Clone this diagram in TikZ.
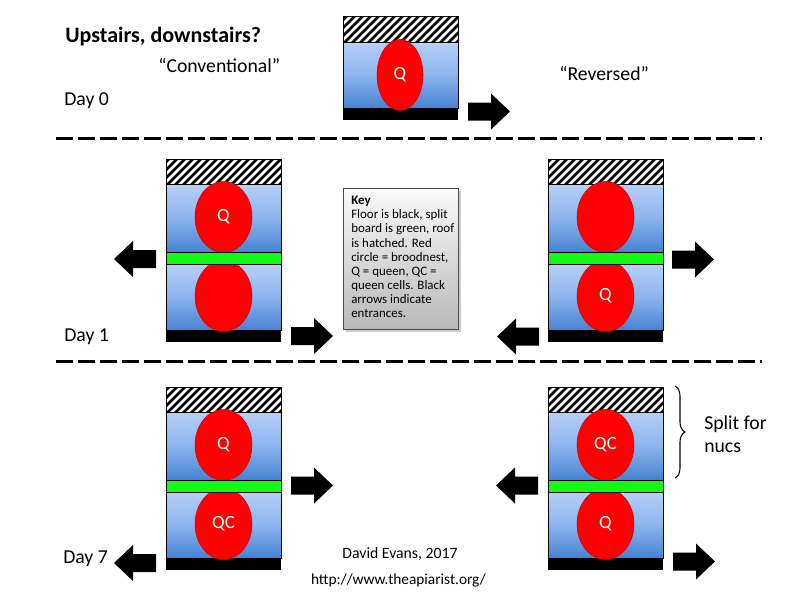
\documentclass[tikz,border=0pt]{standalone}
\usepackage{fontspec}
\setmainfont{Carlito}
\usetikzlibrary{shapes.geometric,shadows,decorations.pathreplacing}
\definecolor{bluetop}{RGB}{182,208,248}
\definecolor{bluemid}{RGB}{140,180,238}
\definecolor{bluebot}{RGB}{70,130,210}
\definecolor{hgreen}{RGB}{20,250,20}
\definecolor{bred}{RGB}{255,0,0}
\tikzset{
  lbl/.style={font=\fontsize{14.8pt}{17pt}\selectfont, inner sep=0pt},
  ttl/.style={font=\fontsize{16.5pt}{19pt}\selectfont\bfseries, inner sep=0pt},
  small/.style={font=\fontsize{11.5pt}{14pt}\selectfont, inner sep=0pt},
  queen/.style={ellipse, fill=bred, draw=red!85!black, line width=0.4pt, inner sep=0pt,
    minimum width=42.75pt, minimum height=53.25pt, text=white,
    font=\fontsize{14pt}{16pt}\selectfont},
  boxblue/.style={top color=bluetop, bottom color=bluebot, middle color=bluemid},
  sep/.style={line width=2.25pt, dash pattern=on 12.75pt off 3.75pt},
  blk/.style={fill=black},
}
% hatched roof: x, ytop, height
\newcommand\HRoof[3]{%
  \fill[white] (#1,#2) rectangle ++(115,#3);
  \begin{scope}
    \clip (#1,#2) rectangle ++(115,#3);
    \foreach \k in {-32,-24,...,120} \draw[line width=2pt] (#1+\k,#2+#3+2) -- ++(34,-34);
  \end{scope}
  \draw[line width=0.6pt] (#1,#2) rectangle ++(115,#3);
}
% two-storey hive: x left, y top, upper label, lower label, name prefix
\newcommand\TwoHive[5]{%
  \HRoof{#1}{#2}{25}
  \shade[boxblue] (#1,#2+25) rectangle ++(115,68);
  \draw[line width=0.6pt] (#1,#2+25) rectangle ++(115,68);
  \shade[boxblue] (#1,#2+105) rectangle ++(115,66);
  \draw[line width=0.6pt] (#1,#2+105) rectangle ++(115,66);
  \fill[blk] (#1,#2+171) rectangle ++(115,12);
  \node[queen] (#5u) at (#1+57.5,#2+58) {#3};
  \node[queen] (#5l) at (#1+57.5,#2+137) {#4};
  \filldraw[fill=hgreen, draw=black, line width=0.6pt] (#1,#2+93) rectangle ++(115,12);
}
\newcommand\RArr[2]{%
  \fill (#1,#2-9) -- (#1+23,#2-9) -- (#1+23,#2-18) -- (#1+42,#2) -- (#1+23,#2+18)
    -- (#1+23,#2+9) -- (#1,#2+9) -- cycle;}
\newcommand\LArr[2]{%
  \fill (#1+42,#2-9) -- (#1+19,#2-9) -- (#1+19,#2-18) -- (#1,#2) -- (#1+19,#2+18)
    -- (#1+19,#2+9) -- (#1+42,#2+9) -- cycle;}
\begin{document}
\begin{tikzpicture}[x=0.75pt,y=-0.75pt]
\useasboundingbox (0,0) rectangle (800,600);
\fill[white] (0,0) rectangle (800,600);

% titles
\node[ttl, anchor=base west] (title) at (65,42) {Upstairs, downstairs?};
\node[lbl, anchor=base west] (conv) at (158,72) {“Conventional”};
\node[lbl, anchor=base west] (rev) at (559,80) {“Reversed”};
\node[lbl, anchor=base west] (d0) at (64,105) {Day 0};
\node[lbl, anchor=base west] (d1) at (64,341) {Day 1};
\node[lbl, anchor=base west] (d7) at (63,563) {Day 7};

% day 0 hive
\HRoof{343}{16}{26}
\shade[boxblue] (343,42) rectangle (458,108);
\draw[line width=0.6pt] (343,42) rectangle (458,108);
\fill[blk] (343,108) rectangle (458,120);
\node[queen, minimum width=34.5pt] (q0) at (400,75) {Q};
\RArr{468}{111.5}

% separators
\draw[sep] (56,138) -- (762,138);
\draw[sep] (56,361) -- (762,361);

% day 1
\TwoHive{166}{159}{Q}{}{c1}
\LArr{114}{259}
\RArr{291}{336}
\TwoHive{548}{159}{}{Q}{r1}
\RArr{672}{259.5}
\LArr{497}{336.5}

% key
\shade[top color=white!96!gray, bottom color=gray!55, drop shadow={opacity=0.4, shadow xshift=2pt, shadow yshift=-2pt}]
  (343,188) rectangle (458,329);
\draw[line width=0.5pt, draw=gray!60!black] (343,188) rectangle (458,329);
\node[anchor=north west, align=left, inner sep=0pt,
  font=\fontsize{9.7pt}{10.6pt}\selectfont] (key) at (351,196)
  {\textbf{Key}\\Floor is black, split\\board is green, roof\\is hatched. Red\\circle = broodnest,\\Q = queen, QC =\\queen cells. Black\\arrows indicate\\entrances.};

% day 7
\TwoHive{166}{387}{Q}{QC}{c7}
\RArr{291}{485.5}
\LArr{114}{563}
\TwoHive{548}{387}{QC}{Q}{r7}
\LArr{496}{485.5}
\RArr{673}{561.5}

% brace
\draw[line width=0.8pt, decorate, decoration={brace, amplitude=7.5pt}] (675,386) -- (675,478);
\node[lbl, anchor=west, align=left] (split) at (704,434) {Split for\\nucs};

% credits
\node[font=\fontsize{11.8pt}{14pt}\selectfont, inner sep=0pt, anchor=base] (auth) at (400,558) {David Evans, 2017};
\node[small, anchor=base] (url) at (398.5,584) {http://www.theapiarist.org/};
\end{tikzpicture}
\end{document}
